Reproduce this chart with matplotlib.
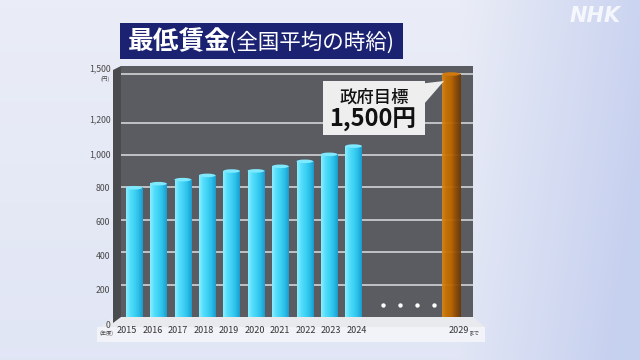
import numpy as np
import matplotlib
matplotlib.use("Agg")
import matplotlib.pyplot as plt
from matplotlib.colors import LinearSegmentedColormap
from matplotlib.patches import Polygon, Rectangle, Ellipse

plt.rcParams['font.family'] = ['Noto Sans CJK JP', 'DejaVu Sans']

# ---- data ----
years = ['2015', '2016', '2017', '2018', '2019', '2020', '2021', '2022', '2023', '2024']
wages = [798, 823, 848, 874, 901, 902, 930, 961, 1004, 1055]
target_year = '2029'
target_wage = 1500
y_ticks = [0, 200, 400, 600, 800, 1000, 1200, 1500]
y_tick_labels = ['0', '200', '400', '600', '800', '1,000', '1,200', '1,500']
title_main = '最低賃金'
title_sub = '(全国平均の時給)'
callout_top = '政府目標'
callout_bottom = '1,500円'

W, H = 640, 360
def fx(x): return x / W
def fy(y): return 1 - y / H

fig = plt.figure(figsize=(6.4, 3.6), dpi=100)

# background gradient
bg = fig.add_axes([0, 0, 1, 1], zorder=0)
gx, gy = np.meshgrid(np.linspace(0, 1, 200), np.linspace(0, 1, 120))
t = np.clip((gx - 0.72) / 0.28, 0, 1) * 0.85 + gy * 0.25
t = np.clip(t, 0, 1)
bgcmap = LinearSegmentedColormap.from_list('bg', ['#eaedf7', '#c6d0ef'])
bg.imshow(t, cmap=bgcmap, aspect='auto', extent=[0, 1, 1, 0], vmin=0, vmax=1)
bg.set_xlim(0, 1); bg.set_ylim(1, 0)
bg.axis('off')

# floor + front slab
fig.patches.append(Polygon([(fx(100), fy(327)), (fx(113), fy(317)), (fx(473), fy(317)), (fx(485), fy(327))],
                           closed=True, transform=fig.transFigure, facecolor='#e9eaee', lw=0, zorder=1))
fig.patches.append(Rectangle((fx(97), fy(342)), fx(485) - fx(97), fy(327) - fy(342),
                             transform=fig.transFigure, facecolor='#f2f3f8', lw=0, zorder=1))
# left wall
fig.patches.append(Polygon([(fx(113), fy(70)), (fx(121), fy(66)), (fx(121), fy(317)), (fx(113), fy(323))],
                           closed=True, transform=fig.transFigure, facecolor='#494b4f', lw=0, zorder=1))

# ---- main plot axes ----
x_left_px, x_right_px, top_px, bot_px = 121, 473, 66, 317
ax = fig.add_axes([fx(x_left_px), fy(bot_px), (x_right_px - x_left_px) / W, (bot_px - top_px) / H], zorder=2)
ax.set_facecolor('#5a5c61')
for s in ax.spines.values():
    s.set_visible(False)

pos = np.arange(len(years))
target_pos = 13
bar_w = 0.68
cyan = LinearSegmentedColormap.from_list('cy', ['#8aeeff', '#55defc', '#3ed2f5', '#2bbfe9', '#1b9ccc'])
orange = LinearSegmentedColormap.from_list('or', ['#d6861a', '#c87000', '#bd6600', '#8c4b06', '#6a3a08'])
grad = np.linspace(0, 1, 64)[np.newaxis, :]
cap_h = 22
for p, v in zip(pos, wages):
    ax.imshow(grad, cmap=cyan, aspect='auto', extent=[p - bar_w / 2, p + bar_w / 2, 0, v], zorder=3)
    ax.add_patch(Ellipse((p, v), bar_w, cap_h, facecolor='#7fe9ff', lw=0, zorder=4))
tw = 0.74
ax.imshow(grad, cmap=orange, aspect='auto', extent=[target_pos - tw / 2, target_pos + tw / 2, 0, target_wage],
          zorder=3, alpha=0.95)
ax.add_patch(Ellipse((target_pos, target_wage), tw, cap_h, facecolor='#d07a10', lw=0, zorder=4))

# ellipsis dots
ax.scatter([10.2, 10.9, 11.6, 12.3], [75, 75, 75, 75], s=10, color='white', zorder=5, lw=0)

ax.set_xlim((x_left_px - 134) / 24.4, (x_right_px - 134) / 24.4)
ax.set_ylim(0, (bot_px - top_px) / 0.162)
ax.set_yticks(y_ticks[1:])
ax.set_xticks([])
ax.tick_params(axis='y', length=0, labelleft=False)
ax.grid(axis='y', color='#c9cacd', lw=1.3, zorder=1)
ax.set_axisbelow(True)

# ---- label axes (perspective-shifted scale) ----
lx0, lx1, ly0, ly1 = 127, 458.5, 324, 68
lab = fig.add_axes([fx(lx0), fy(ly0), (lx1 - lx0) / W, (ly0 - ly1) / H], zorder=3)
lab.set_facecolor('none')
for s in lab.spines.values():
    s.set_visible(False)
lab.set_xlim(0, 13)
lab.set_ylim(0, 1500)
lab.set_yticks(y_ticks)
lab.set_yticklabels(y_tick_labels, fontsize=6.3, color='#4a4a4a')
lab.set_xticks(list(pos) + [target_pos])
lab.set_xticklabels(years + [target_year], fontsize=6.5, color='#333333')
lab.tick_params(axis='y', length=0, pad=12)
lab.tick_params(axis='x', length=0, pad=1.5)

fig.text(fx(105), fy(79), '(円)', fontsize=4, color='#4a4a4a', ha='center', va='center')
fig.text(fx(107), fy(333), '(年度)', fontsize=3.8, color='#4a4a4a', ha='center', va='center')
fig.text(fx(474), fy(333), 'まで', fontsize=4, color='#4a4a4a', ha='center', va='center')

# ---- title ----
fig.patches.append(Rectangle((fx(120), fy(59)), fx(403) - fx(120), fy(23) - fy(59),
                             transform=fig.transFigure, facecolor='#1b2272', lw=0, zorder=5))
fig.text(fx(128), fy(42), title_main, fontsize=18.5, fontweight='bold', color='white',
         ha='left', va='center', zorder=6)
fig.text(fx(229), fy(43), title_sub, fontsize=15.5, color='white', ha='left', va='center', zorder=6)

# ---- callout ----
fig.patches.append(Rectangle((fx(323), fy(135)), fx(425) - fx(323), fy(81) - fy(135),
                             transform=fig.transFigure, facecolor='#eeeeee', lw=0, zorder=5))
fig.patches.append(Polygon([(fx(418), fy(84)), (fx(444), fy(81)), (fx(424), fy(104))], closed=True,
                           transform=fig.transFigure, facecolor='#eeeeee', lw=0, zorder=5))
fig.text(fx(374), fy(98), callout_top, fontsize=12.5, fontweight='medium', color='#111111',
         ha='center', va='center', zorder=6)
fig.text(fx(373), fy(120), callout_bottom, fontsize=17, fontweight='bold', color='#111111',
         ha='center', va='center', zorder=6)

# ---- logo ----
fig.text(fx(595), fy(16), 'NHK', fontsize=15, fontweight='bold', style='italic', color='white',
         alpha=0.8, ha='center', va='center', family='DejaVu Sans', zorder=6)

fig.savefig('out.png', dpi=100)
